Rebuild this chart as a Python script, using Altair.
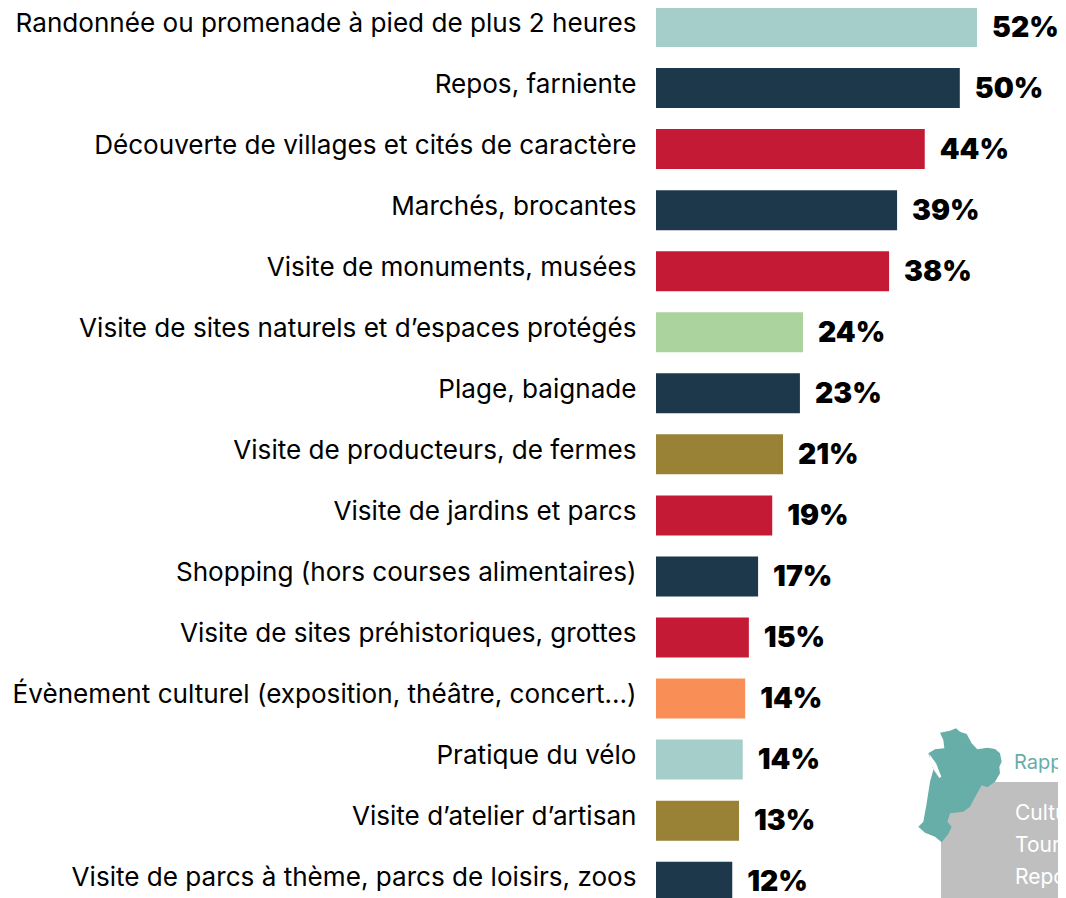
import altair as alt
import pandas as pd

categories = ["Randonnée ou promenade à pied de plus 2 heures", "Repos, farniente",
    "Découverte de villages et cités de caractère", "Marchés, brocantes",
    "Visite de monuments, musées", "Visite de sites naturels et d’espaces protégés",
    "Plage, baignade", "Visite de producteurs, de fermes", "Visite de jardins et parcs",
    "Shopping (hors courses alimentaires)", "Visite de sites préhistoriques, grottes",
    "Évènement culturel (exposition, théâtre, concert…)", "Pratique du vélo",
    "Visite d’atelier d’artisan", "Visite de parcs à thème, parcs de loisirs, zoos"]
values = [52.2, 49.4, 43.7, 39.2, 37.9, 23.9, 23.4, 20.65, 18.9, 16.6, 15.1, 14.5, 14.1, 13.5, 12.4]
labels = ["52%", "50%", "44%", "39%", "38%", "24%", "23%", "21%", "19%", "17%", "15%", "14%", "14%", "13%", "12%"]
colors = ["#a5cdc9", "#1d374b", "#c41a35", "#1d374b", "#c41a35", "#abd39d", "#1d374b", "#998136",
          "#c41a35", "#1d374b", "#c41a35", "#f98f57", "#a5cdc9", "#998136", "#1d374b"]
box_lines = ["Culture", "Tourisme", "Repos"]
outline_x = [120,150,168,180,200,215,232,262,285,300,305,298,300,285,262,245,225,210,190,150,142,155,145,125,105,75,55,70,80,90,100,92,85,105,133,130,120]
outline_y = [68,62,55,65,72,100,118,113,117,130,155,170,190,215,232,226,262,290,305,310,335,350,372,397,380,368,350,335,280,215,180,150,130,118,115,90,68]
estuary_x = [88,108,124,118,100,90,88]
estuary_y = [132,160,200,204,178,150,132]

FONT = "Inter"
W, H = 1050, 890
X0 = 648
STEP = 61.05
BAR = 40.0
PX_PER_UNIT = 6.15

df = pd.DataFrame({"cat": categories, "val": values, "lab": labels, "col": colors})

x_scale = alt.Scale(domain=[0, (W - X0) / PX_PER_UNIT], range=[X0, W], nice=False, clamp=False)
y_scale = alt.Scale(type="band", domain=categories, range=[-1, 14 * STEP + BAR - 1],
                    paddingInner=(STEP - BAR) / STEP, paddingOuter=0)

base = alt.Chart(df)
bars = base.mark_bar(cornerRadius=0).encode(
    x=alt.X("val:Q", scale=x_scale, axis=None),
    y=alt.Y("cat:N", scale=y_scale, sort=None, axis=alt.Axis(
        title=None, domain=False, ticks=False, grid=False, offset=-(X0 - 20), labelPadding=0,
        labelLimit=0, labelFont=FONT, labelFontSize=26.1, labelColor="#000000", labelOffset=-3.5)),
    color=alt.Color("col:N", scale=None),
)
vals = base.mark_text(align="left", baseline="middle", dx=15, dy=1.5, font=FONT, fontSize=28.3,
                      fontWeight=900, color="#000000").encode(
    x=alt.X("val:Q", scale=x_scale, axis=None),
    y=alt.Y("cat:N", scale=y_scale, sort=None, axis=None),
    text="lab:N",
)

box = alt.Chart(pd.DataFrame({"a": [0]})).mark_rect(color="#bfbfbf").encode(
    x=alt.value(933), x2=alt.value(W), y=alt.value(774), y2=alt.value(H))


def poly(xs, ys):
    ring = [[900 + a / 3 - 8, 710 + b / 3 - 8] for a, b in zip(xs, ys)]
    return {"type": "Feature", "properties": {}, "geometry": {"type": "Polygon", "coordinates": [ring]}}


region = alt.Chart(alt.Data(values=[poly(outline_x, outline_y)])).mark_geoshape(
    color="#67ada8", stroke=None).project(type="identity", scale=1, translate=[0, 0])
estuary = alt.Chart(alt.Data(values=[poly(estuary_x, estuary_y)])).mark_geoshape(
    color="#ffffff", stroke=None).project(type="identity", scale=1, translate=[0, 0])

rapp = alt.Chart(pd.DataFrame({"t": ["Rappel"]})).mark_text(
    align="left", baseline="middle", font=FONT, fontSize=20, color="#67ada8").encode(
    x=alt.value(1006), y=alt.value(755), text="t:N")
box_df = pd.DataFrame({"t": box_lines, "yy": [806, 838, 870]})
box_text = alt.Chart(box_df).mark_text(
    align="left", baseline="middle", font=FONT, fontSize=21, color="#ffffff").encode(
    x=alt.value(1007), y=alt.Y("yy:Q", scale=alt.Scale(domain=[0, H], range=[0, H]), axis=None), text="t:N")

chart = alt.layer(box, bars, vals, region, estuary, rapp, box_text).resolve_scale(y="independent").properties(
    width=W, height=H, padding=0,
    autosize=alt.AutoSizeParams(type="none", contains="content"),
).configure_view(stroke=None)

chart.save("out.html", embed_options={"renderer": "svg", "actions": False})
